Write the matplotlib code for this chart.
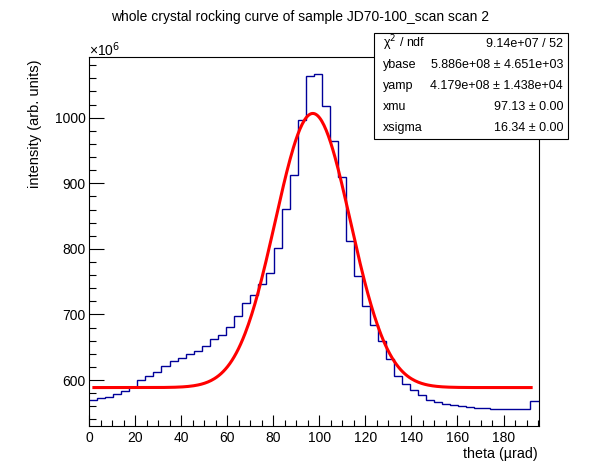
import numpy as np
import matplotlib
matplotlib.use("Agg")
import matplotlib.pyplot as plt
from matplotlib.ticker import MultipleLocator
from matplotlib.patches import Rectangle

plt.rcParams['font.family'] = ['Liberation Sans', 'DejaVu Sans']

# histogram: 56 bins, intensity in units of 1e6
bin_lo = 0.0
bin_hi = 195.2
counts = [569.2, 572.7, 574.2, 578.3, 582.9, 589.5, 599.7, 605.8, 611.9, 621.0,
          628.7, 633.2, 639.3, 643.9, 651.5, 662.2, 668.3, 680.5, 697.3, 717.1,
          729.7, 746.0, 762.8, 800.9, 860.4, 912.7, 996.5, 1063.6, 1066.2, 1017.4,
          964.5, 909.1, 811.6, 758.6, 713.0, 683.5, 659.1, 631.7, 605.8, 593.6,
          584.5, 576.8, 569.2, 566.2, 563.1, 561.6, 560.1, 558.5, 557.0, 557.0,
          555.5, 555.5, 555.5, 555.5, 555.5, 567.7]

# fit results (gaussian on a flat base)
ybase = 588.6
yamp = 417.9
xmu = 97.13
xsigma = 16.34
fit_lo = 2.0
fit_hi = 192.0

stat_names = ["χ$^2$ / ndf", "ybase", "yamp", "xmu", "xsigma"]
stat_values = ["9.14e+07 / 52", "5.886e+08 ± 4.651e+03", "4.179e+08 ± 1.438e+04",
               "97.13 ± 0.00", "16.34 ± 0.00"]

W, H = 598, 474
fig = plt.figure(figsize=(W / 100, H / 100), dpi=100)
ax = fig.add_axes([89.3 / W, 1 - 426 / H, (538.5 - 89.3) / W, (426 - 56.7) / H])

edges = np.linspace(bin_lo, bin_hi, len(counts) + 1)
ax.stairs(counts, edges, baseline=None, color='#000099', lw=1.0)

xf = np.linspace(fit_lo, fit_hi, 400)
yf = ybase + yamp * np.exp(-0.5 * ((xf - xmu) / xsigma) ** 2)
ax.plot(xf, yf, color='#ff0000', lw=2.2)

ax.set_xlim(bin_lo, bin_hi)
ax.set_ylim(530, 1093)

ax.xaxis.set_major_locator(MultipleLocator(20))
ax.xaxis.set_minor_locator(MultipleLocator(5))
ax.yaxis.set_major_locator(MultipleLocator(100))
ax.yaxis.set_minor_locator(MultipleLocator(20))
ax.tick_params(axis='x', which='major', direction='in', length=8, width=0.8, labelsize=10, pad=3.5)
ax.tick_params(axis='x', which='minor', direction='in', length=4, width=0.8)
ax.tick_params(axis='y', which='major', direction='in', length=10.5, width=0.8, labelsize=10, pad=2.5)
ax.tick_params(axis='y', which='minor', direction='in', length=5.2, width=0.8)
for s in ax.spines.values():
    s.set_linewidth(0.8)

fig.text(89 / W, 1 - 50 / H, "×10$^6$", fontsize=10, ha='left', va='center')
fig.text(538 / W, 1 - 454 / H, "theta (µrad)", fontsize=10.3, ha='right', va='center')
fig.text(35 / W, 1 - 59 / H, "intensity (arb. units)", fontsize=10.5, ha='center', va='top',
         rotation=90)
fig.text(300 / W, 1 - 17 / H, "whole crystal rocking curve of sample JD70-100_scan scan 2",
         fontsize=10, ha='center', va='center')

# stats box
bx0, bx1, by0, by1 = 374, 568, 33, 139
fig.patches.append(Rectangle((bx0 / W, 1 - by1 / H), (bx1 - bx0) / W, (by1 - by0) / H,
                             transform=fig.transFigure, facecolor='white',
                             edgecolor='black', lw=0.8, zorder=5))
row_h = (by1 - by0) / len(stat_names)
for i in range(len(stat_names)):
    yc = 1 - (by0 + row_h * (i + 0.5)) / H
    fig.text((bx0 + 9) / W, yc, stat_names[i], fontsize=9, ha='left', va='center', zorder=6)
    fig.text((bx1 - 5) / W, yc, stat_values[i], fontsize=9, ha='right', va='center', zorder=6)

fig.savefig("out.png", dpi=100)
